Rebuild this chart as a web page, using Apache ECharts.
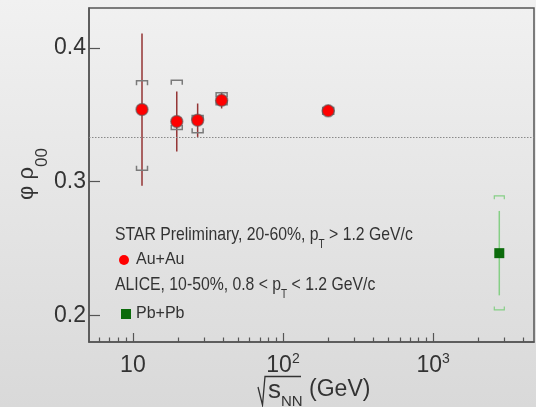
<!DOCTYPE html>
<html>
<head>
<meta charset="utf-8">
<script src="https://cdn.jsdelivr.net/npm/echarts@6/dist/echarts.min.js"></script>
<style>
  html, body { margin: 0; padding: 0; }
  #chart { width: 536px; height: 407px; }
</style>
</head>
<body>
<div id="chart"></div>
<script>
  // STAR Au+Au, 20-60%
  var starEnergy = [11.5, 19.6, 27, 39, 200]
  var starRho = [0.354, 0.345, 0.346, 0.361, 0.353]
  var starStat = [0.057, 0.0225, 0.0125, 0.0062, 0.0015]
  var starSysHigh = [0.3755, 0.376, 0.3495, 0.3665, 0.3555]
  var starSysLow = [0.3085, 0.339, 0.3367, 0.3575, 0.3505]

  // ALICE Pb+Pb, 10-50%
  var aliceEnergy = [2760]
  var aliceRho = [0.2465]
  var aliceStat = [0.0316]
  var aliceSysHigh = [0.2894]
  var aliceSysLow = [0.204]

  var refLine = 1 / 3
  var xMajor = [10, 100, 1000]
  var xMinor = [6, 7, 8, 9, 20, 30, 40, 50, 60, 70, 80, 90, 200, 300, 400, 500, 600, 700, 800, 900, 2000, 3000, 4000]
  var yTicks = [0.2, 0.3, 0.4]

  var F = 'Liberation Sans, Arial, sans-serif'
  var txt = '#333'
  var frame = '#555'

  function rows(e, v, s, hi, lo) {
    return e.map(function (x, i) { return [x, v[i], s[i], hi[i], lo[i]] })
  }

  function errBars(statColor, sysColor, halfW, leg, sysWidth) {
    return function (params, api) {
      var x = api.value(0), y = api.value(1), st = api.value(2)
      var a = api.coord([x, y + st]), b = api.coord([x, y - st])
      var h = api.coord([x, api.value(3)]), l = api.coord([x, api.value(4)])
      var cx = h[0]
      return {
        type: 'group',
        children: [
          {type: 'line', shape: {x1: a[0], y1: a[1], x2: b[0], y2: b[1]},
            style: {stroke: statColor, lineWidth: 1.5}},
          {type: 'polyline', shape: {points: [[cx - halfW, h[1] + leg], [cx - halfW, h[1]], [cx + halfW, h[1]], [cx + halfW, h[1] + leg]]},
            style: {stroke: sysColor, lineWidth: sysWidth, fill: null}},
          {type: 'polyline', shape: {points: [[cx - halfW, l[1] - leg], [cx - halfW, l[1]], [cx + halfW, l[1]], [cx + halfW, l[1] - leg]]},
            style: {stroke: sysColor, lineWidth: sysWidth, fill: null}}
        ]
      }
    }
  }

  // text with a lowered subscript (ROOT style)
  function subText(x, y, parts, size, subSize, lh) {
    return {
      type: 'text', x: x, y: y, scaleX: 0.83,
      style: {
        text: '{m|' + parts[0] + '}{s|' + parts[1] + '}{m|' + parts[2] + '}',
        align: 'left', verticalAlign: 'top',
        rich: {
          m: {fontFamily: F, fontSize: size, lineHeight: 20, verticalAlign: 'top', fill: txt},
          s: {fontFamily: F, fontSize: subSize, lineHeight: lh, verticalAlign: 'bottom', fill: txt}
        }
      }
    }
  }

  var chart = echarts.init(document.getElementById('chart'))

  var option = {
    animation: false,
    backgroundColor: {
      type: 'linear', x: 0, y: 0, x2: 0, y2: 1,
      colorStops: [{offset: 0, color: '#f1f1f1'}, {offset: 1, color: '#d9d9d9'}]
    },
    grid: {
      left: 89, right: 2, top: 8, bottom: 65,
      show: true, borderColor: frame, borderWidth: 1.5, backgroundColor: 'transparent'
    },
    legend: [
      {
        data: [{name: 'Au+Au', icon: 'circle', itemStyle: {color: '#ff0000', borderWidth: 0}}],
        left: 119, top: 250, padding: 0, itemWidth: 14, itemHeight: 10, selectedMode: false,
        textStyle: {fontFamily: F, fontSize: 16, color: txt, lineHeight: 20}
      },
      {
        data: [{name: 'Pb+Pb', icon: 'rect', itemStyle: {color: '#0b6b0b', borderWidth: 0}}],
        left: 121, top: 304, padding: 0, itemWidth: 10, itemHeight: 10, selectedMode: false,
        textStyle: {fontFamily: F, fontSize: 16, color: txt, lineHeight: 20}
      }
    ],
    xAxis: [
      {
        type: 'log', logBase: 10, min: 5.1, max: 4700,
        axisLine: {lineStyle: {color: frame, width: 1.5}},
        axisTick: {inside: true, length: 9, customValues: xMajor, lineStyle: {color: frame, width: 1.2}},
        axisLabel: {
          customValues: xMajor, margin: 10,
          formatter: function (v) {
            var e = Math.round(Math.log10(v))
            return e === 1 ? '{b|10}' : '{b|10}{sup|' + e + '}'
          },
          rich: {
            b: {fontFamily: F, fontSize: 23, lineHeight: 28, color: txt},
            sup: {fontFamily: F, fontSize: 14, lineHeight: 14, verticalAlign: 'top', color: txt}
          }
        },
        splitLine: {show: false}
      },
      {
        type: 'log', logBase: 10, min: 5.1, max: 4700, position: 'bottom',
        axisLine: {show: false},
        axisTick: {inside: true, length: 4.5, customValues: xMinor, lineStyle: {color: frame, width: 1.2}},
        axisLabel: {show: false},
        splitLine: {show: false}
      }
    ],
    yAxis: {
      type: 'value', min: 0.18, max: 0.43,
      axisLine: {lineStyle: {color: frame, width: 1.5}},
      axisTick: {inside: true, length: 11, customValues: yTicks, lineStyle: {color: frame, width: 1.2}},
      axisLabel: {
        customValues: yTicks, margin: 3,
        fontFamily: F, fontSize: 23, color: txt,
        formatter: function (v) { return v.toFixed(1) }
      },
      splitLine: {show: false}
    },
    graphic: [
      {
        type: 'text', x: 33, y: 174, rotation: Math.PI / 2,
        style: {
          text: '{m|φ ρ}{s|00}', align: 'center', verticalAlign: 'middle',
          rich: {
            m: {fontFamily: F, fontSize: 22, lineHeight: 22, verticalAlign: 'top', fill: txt},
            s: {fontFamily: F, fontSize: 17, lineHeight: 35, verticalAlign: 'bottom', fill: txt}
          }
        }
      },
      {
        type: 'polyline',
        shape: {points: [[258, 387], [262.5, 405], [265, 376.5], [301, 376.5]]},
        style: {stroke: txt, lineWidth: 1.3, fill: null}
      },
      {
        type: 'text', x: 268, y: 378,
        style: {
          text: '{s|s}{n|NN}{m| (GeV)}', align: 'left', verticalAlign: 'top',
          rich: {
            s: {fontFamily: F, fontSize: 26, lineHeight: 22, verticalAlign: 'top', fill: txt},
            n: {fontFamily: F, fontSize: 15, lineHeight: 31, verticalAlign: 'bottom', fill: txt},
            m: {fontFamily: F, fontSize: 23, lineHeight: 24, verticalAlign: 'top', fill: txt}
          }
        }
      },
      subText(115, 225, ['STAR Preliminary, 20-60%, p', 'T', ' > 1.2 GeV/c'], 19, 12, 26),
      subText(115, 275, ['ALICE, 10-50%, 0.8 < p', 'T', ' < 1.2 GeV/c'], 19, 12, 26)
    ],
    series: [
      {
        name: 'STAR errors',
        type: 'custom',
        renderItem: errBars('#943434', '#7a7a7a', 5.5, 4.5, 1.5),
        data: rows(starEnergy, starRho, starStat, starSysHigh, starSysLow),
        encode: {x: 0, y: 1},
        z: 2,
        silent: true,
        markLine: {
          silent: true,
          precision: 6,
          symbol: ['none', 'none'],
          label: {show: false},
          lineStyle: {color: '#8a8a8a', type: [1.5, 1.5], width: 1},
          data: [{yAxis: refLine}]
        }
      },
      {
        name: 'Au+Au',
        type: 'scatter',
        symbol: 'circle',
        symbolSize: 12,
        itemStyle: {color: '#ff0000', borderColor: 'rgba(90,90,90,0.6)', borderWidth: 1.5, opacity: 1},
        data: starEnergy.map(function (x, i) { return [x, starRho[i]] }),
        z: 4
      },
      {
        name: 'ALICE errors',
        type: 'custom',
        renderItem: errBars('#86cf86', '#86cf86', 5, 3.5, 1.2),
        data: rows(aliceEnergy, aliceRho, aliceStat, aliceSysHigh, aliceSysLow),
        encode: {x: 0, y: 1},
        z: 2,
        silent: true
      },
      {
        name: 'Pb+Pb',
        type: 'scatter',
        symbol: 'rect',
        symbolSize: 10,
        itemStyle: {color: '#0b6b0b', opacity: 1},
        data: aliceEnergy.map(function (x, i) { return [x, aliceRho[i]] }),
        z: 4
      }
    ]
  }

  chart.setOption(option)
</script>
</body>
</html>
